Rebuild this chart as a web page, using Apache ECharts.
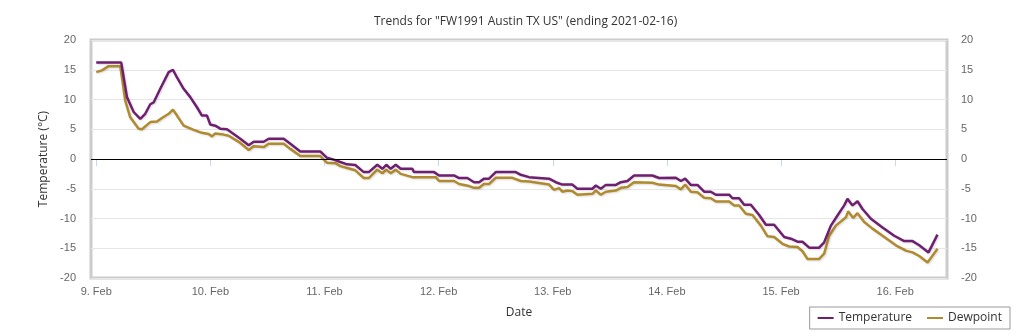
<!DOCTYPE html>
<html>
<head>
<meta charset="utf-8">
<script src="https://cdn.jsdelivr.net/npm/echarts@6/dist/echarts.min.js"></script>
<style>
html,body{margin:0;padding:0;background:#fff;}
#chart{width:1023px;height:336px;}
</style>
</head>
<body>
<div id="chart"></div>
<script>
// Hours since 2021-02-09 00:00 and values (°C)
const tempHours = [0,5.26,6.46,7.87,9.26,10.3,11.36,12.07,13.46,15.23,16.13,16.98,18.38,19.77,21.18,22.23,23.29,23.98,25.03,26.08,27.49,28.9,30.29,32.06,33.11,35.21,36.26,39.42,40.81,42.91,47.12,48.53,49.94,51.33,52.74,54.48,56.25,57.3,59.1,60.16,61.0,61.93,62.98,64.03,66.47,66.83,71.03,72.09,75.24,76.3,78.04,79.45,80.5,81.55,82.6,84.01,88.22,89.27,91.02,95.22,96.63,98.02,100.13,101.18,104.33,105.05,106.1,107.15,109.26,110.31,111.7,113.1,116.95,118.36,121.88,122.93,123.84,125.03,126.42,127.83,129.24,130.29,133.09,133.78,135.19,136.24,137.65,139.4,140.81,142.55,144.66,146.07,147.46,148.51,149.92,152.02,153.07,154.48,155.87,157.28,157.97,159.03,160.08,161.13,162.9,165.34,167.8,169.9,171.65,173.06,175.01,176.9];
const tempValues = [16.2,16.2,10.4,7.9,6.75,7.6,9.2,9.5,11.8,14.6,15.0,13.7,11.8,10.4,8.7,7.3,7.3,5.8,5.6,5.1,5.0,4.2,3.4,2.3,2.9,2.9,3.4,3.4,2.55,1.26,1.26,0.2,-0.1,-0.5,-0.9,-1.0,-2.2,-2.2,-0.97,-1.65,-0.97,-1.65,-0.97,-1.65,-1.65,-2.2,-2.2,-2.77,-2.77,-3.2,-3.2,-3.9,-3.9,-3.3,-3.3,-2.2,-2.2,-2.66,-3.05,-3.3,-3.9,-4.3,-4.3,-5.0,-5.0,-4.45,-5.0,-4.35,-4.35,-3.9,-3.7,-2.77,-2.77,-3.2,-3.16,-3.7,-3.3,-4.35,-4.35,-5.5,-5.5,-6.0,-6.0,-6.6,-6.6,-7.7,-7.7,-9.4,-11.06,-11.06,-13.1,-13.4,-13.9,-13.9,-14.9,-14.9,-14.0,-11.2,-9.5,-7.8,-6.7,-7.8,-7.1,-8.4,-10.05,-11.5,-12.9,-13.8,-13.8,-14.5,-15.7,-12.7];
const dewHours = [0,1.2,2.6,5.05,6.1,7.15,8.92,9.61,11.36,12.77,13.82,15.23,16.13,16.98,18.38,20.49,22.23,23.64,24.34,25.03,26.8,27.85,30.29,32.06,33.11,35.21,36.26,39.42,40.81,42.91,47.12,48.53,50.27,51.33,52.74,54.48,56.25,57.3,59.1,60.16,61.0,61.93,62.98,64.03,66.47,71.4,72.09,75.24,76.3,78.4,79.45,80.5,81.55,82.6,84.01,87.5,89.27,91.02,95.22,96.27,97.32,98.02,99.07,100.13,101.18,104.33,105.05,106.1,107.15,109.26,110.31,111.7,113.1,116.95,118.36,121.88,122.93,123.84,125.03,126.42,127.83,129.24,130.29,133.09,134.14,135.19,136.6,137.99,139.76,141.15,142.55,144.3,145.71,147.46,148.51,149.56,152.02,153.07,154.12,155.53,157.64,158.1,159.16,160.08,161.49,163.23,165.34,168.15,170.26,171.65,173.06,174.81,176.9];
const dewValues = [14.6,14.9,15.6,15.6,9.8,7.0,5.1,5.0,6.2,6.3,6.9,7.6,8.3,7.3,5.6,4.9,4.4,4.2,3.8,4.3,4.1,3.9,2.7,1.5,2.15,2.0,2.55,2.55,1.7,0.5,0.5,-0.65,-0.7,-1.2,-1.5,-1.9,-3.2,-3.2,-1.8,-2.4,-1.8,-2.4,-1.8,-2.5,-3.05,-3.05,-3.7,-3.7,-4.2,-4.55,-4.85,-4.85,-4.2,-4.2,-3.16,-3.16,-3.7,-3.8,-4.3,-5.2,-4.9,-5.5,-5.3,-5.4,-6.0,-5.85,-5.3,-6.0,-5.5,-5.3,-4.85,-4.7,-3.9,-4.0,-4.3,-4.55,-5.1,-4.3,-5.5,-5.6,-6.5,-6.6,-7.15,-7.15,-7.8,-7.8,-9.2,-9.4,-11.2,-13.0,-13.1,-14.25,-14.7,-14.8,-15.5,-16.8,-16.8,-15.9,-12.9,-11.2,-9.8,-8.8,-9.9,-9.1,-10.6,-11.7,-12.9,-14.5,-15.4,-15.7,-16.3,-17.4,-15.1];
const yTicks = [-20,-15,-10,-5,0,5,10,15,20];
const seriesNames = ['Temperature','Dewpoint'];
const titleText = 'Trends for "FW1991 Austin TX US" (ending 2021-02-16)';

const base = Date.UTC(2021,1,9);
const H = 3600000;
const toData = (hs, vs) => hs.map((h,i)=>[base + h*H, vs[i]]);

const chart = echarts.init(document.getElementById('chart'));
const yLabel = {color:'#666', fontSize:11, fontFamily:'Liberation Sans'};
chart.setOption({
  useUTC: true,
  animation: false,
  backgroundColor: '#fff',
  title: {text: titleText, left: 369, top: 11, textStyle:{fontSize:12, fontWeight:'normal', color:'#333', fontFamily:'Open Sans'}},
  grid: {left: 91, right: 76, top: 40, bottom: 58, show: true, borderColor: '#cccccc', borderWidth: 3, backgroundColor:'#fff'},
  legend: {right: 13, bottom: 7, orient:'horizontal', borderColor:'#999', borderWidth:1, padding:[5,8,5,8], itemGap: 15,
    itemWidth: 16, itemHeight: 2, icon: 'rect',
    textStyle:{fontSize:12, color:'#333', fontFamily:'Open Sans'}, data: seriesNames},
  xAxis: {type:'time', min: base - 1.1*H, max: base + 178.9*H,
    minInterval: 24*H, maxInterval: 24*H,
    name:'Date', nameLocation:'middle', nameGap: 29, nameTextStyle:{fontSize:12, color:'#333', fontFamily:'Open Sans'},
    axisLine:{show:false}, axisTick:{show:true, length:7, lineStyle:{color:'#ccd6eb'}},
    splitLine:{show:false},
    axisLabel:{color:'#666', fontSize:11, fontFamily:'Liberation Sans', margin:8, showMinLabel:false, showMaxLabel:false,
      formatter: v => new Date(v).getUTCDate() + '. Feb'}},
  yAxis: [
    {type:'value', min: yTicks[0], max: yTicks[yTicks.length-1], interval: 5, position:'left',
     name:'Temperature (°C)', nameLocation:'middle', nameGap: 39, nameTextStyle:{fontSize:12, color:'#333', fontFamily:'Open Sans'},
     axisLine:{show:false}, axisTick:{show:false}, splitLine:{lineStyle:{color:'#e6e6e6'}},
     axisLabel:Object.assign({margin:15}, yLabel)},
    {type:'value', min: yTicks[0], max: yTicks[yTicks.length-1], interval: 5, position:'right',
     axisLine:{show:false}, axisTick:{show:false}, splitLine:{show:false},
     axisLabel:Object.assign({margin:14}, yLabel)}
  ],
  series: [
    {name: seriesNames[0], type:'line', data: toData(tempHours, tempValues), showSymbol:false, symbol:'none',
     color:'#6e1f6f', lineStyle:{width:2.5, color:'#6e1f6f', shadowColor:'rgba(0,0,0,0.15)', shadowBlur:2, shadowOffsetX:1, shadowOffsetY:1},
     z: 3,
     markLine:{silent:true, symbol:'none', label:{show:false}, lineStyle:{color:'#000', width:1, type:'solid'}, data:[{yAxis:0}]}},
    {name: seriesNames[1], type:'line', data: toData(dewHours, dewValues), showSymbol:false, symbol:'none',
     color:'#b08a2e', lineStyle:{width:2.5, color:'#b08a2e', shadowColor:'rgba(0,0,0,0.15)', shadowBlur:2, shadowOffsetX:1, shadowOffsetY:1},
     z: 2}
  ]
});
</script>
</body>
</html>
